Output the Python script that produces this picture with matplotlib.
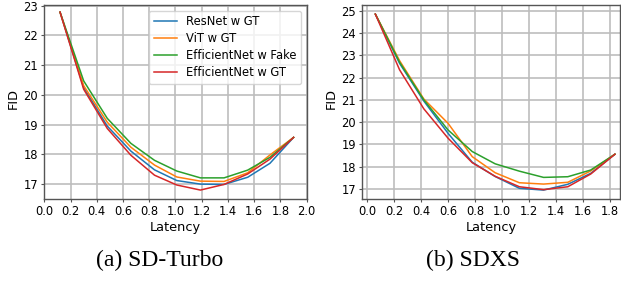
import matplotlib
matplotlib.use('Agg')
import matplotlib.pyplot as plt

# SD-Turbo (a)
lat_turbo = [0.12, 0.30, 0.48, 0.66, 0.84, 1.01, 1.19, 1.37, 1.55, 1.72, 1.90]
turbo_resnet = [22.78, 20.25, 18.95, 18.11, 17.48, 17.12, 17.00, 16.99, 17.23, 17.70, 18.57]
turbo_vit = [22.78, 20.31, 19.08, 18.24, 17.64, 17.24, 17.10, 17.09, 17.38, 17.98, 18.57]
turbo_eff_fake = [22.78, 20.47, 19.21, 18.37, 17.80, 17.44, 17.21, 17.21, 17.47, 17.90, 18.57]
turbo_eff_gt = [22.78, 20.19, 18.87, 17.97, 17.30, 16.97, 16.80, 16.99, 17.34, 17.84, 18.57]

# SDXS (b)
lat_sdxs = [0.06, 0.24, 0.42, 0.60, 0.78, 0.95, 1.13, 1.31, 1.49, 1.66, 1.84]
sdxs_resnet = [24.85, 22.64, 20.95, 19.50, 18.20, 17.56, 17.03, 16.95, 17.21, 17.70, 18.56]
sdxs_vit = [24.85, 22.76, 21.04, 19.95, 18.45, 17.73, 17.28, 17.22, 17.30, 17.81, 18.56]
sdxs_eff_fake = [24.85, 22.69, 21.00, 19.65, 18.68, 18.13, 17.80, 17.52, 17.55, 17.85, 18.56]
sdxs_eff_gt = [24.85, 22.35, 20.60, 19.28, 18.18, 17.57, 17.10, 16.97, 17.10, 17.67, 18.56]

labels = ['ResNet w GT', 'ViT w GT', 'EfficientNet w Fake', 'EfficientNet w GT']
cores = ['tab:blue', 'tab:orange', 'tab:green', 'tab:red']

W, H = 621, 282
fig = plt.figure(figsize=(W / 100, H / 100), dpi=100)

ax1 = fig.add_axes([44.3 / W, 1 - 199 / H, 262.4 / W, 194 / H])
ax2 = fig.add_axes([362.3 / W, 1 - 199 / H, 258 / W, 194 / H])

def estilo(ax):
    ax.grid(True, color='#bdbdbd', linewidth=1.2)
    ax.set_axisbelow(True)
    for s in ax.spines.values():
        s.set_color('#555555')
        s.set_linewidth(1.0)
    ax.tick_params(labelsize=8.3, length=2.2, pad=2.2, color='#555555')
    ax.set_xlabel('Latency', fontsize=9.3, labelpad=2)
    ax.set_ylabel('FID', fontsize=9.3)
    ax.yaxis.set_label_coords(-0.093, 0.52)

series1 = [turbo_resnet, turbo_vit, turbo_eff_fake, turbo_eff_gt]
for y, lab, c in zip(series1, labels, cores):
    ax1.plot(lat_turbo, y, color=c, linewidth=1.1, label=lab)
ax1.set_xlim(0, 2.0)
ax1.set_ylim(16.5, 23.02)
ax1.set_xticks([0.0, 0.2, 0.4, 0.6, 0.8, 1.0, 1.2, 1.4, 1.6, 1.8, 2.0])
ax1.set_yticks([17, 18, 19, 20, 21, 22, 23])
estilo(ax1)
ax1.legend(loc='upper right', fontsize=8.3, handlelength=2.0, borderpad=0.4, labelspacing=0.35)

series2 = [sdxs_resnet, sdxs_vit, sdxs_eff_fake, sdxs_eff_gt]
for y, lab, c in zip(series2, labels, cores):
    ax2.plot(lat_sdxs, y, color=c, linewidth=1.1, label=lab)
ax2.set_xlim(-0.037, 1.88)
ax2.set_ylim(16.55, 25.26)
ax2.set_xticks([0.0, 0.2, 0.4, 0.6, 0.8, 1.0, 1.2, 1.4, 1.6, 1.8])
ax2.set_yticks([17, 18, 19, 20, 21, 22, 23, 24, 25])
estilo(ax2)
ax2.yaxis.set_label_coords(-0.094, 0.52)

# legendas das subfiguras
fig.text(160 / W, 1 - 260 / H, '(a) SD-Turbo', family='Liberation Serif', fontsize=17,
         ha='center', va='center')
fig.text(473 / W, 1 - 260 / H, '(b) SDXS', family='Liberation Serif', fontsize=17,
         ha='center', va='center')

plt.savefig('out.png', dpi=100)
